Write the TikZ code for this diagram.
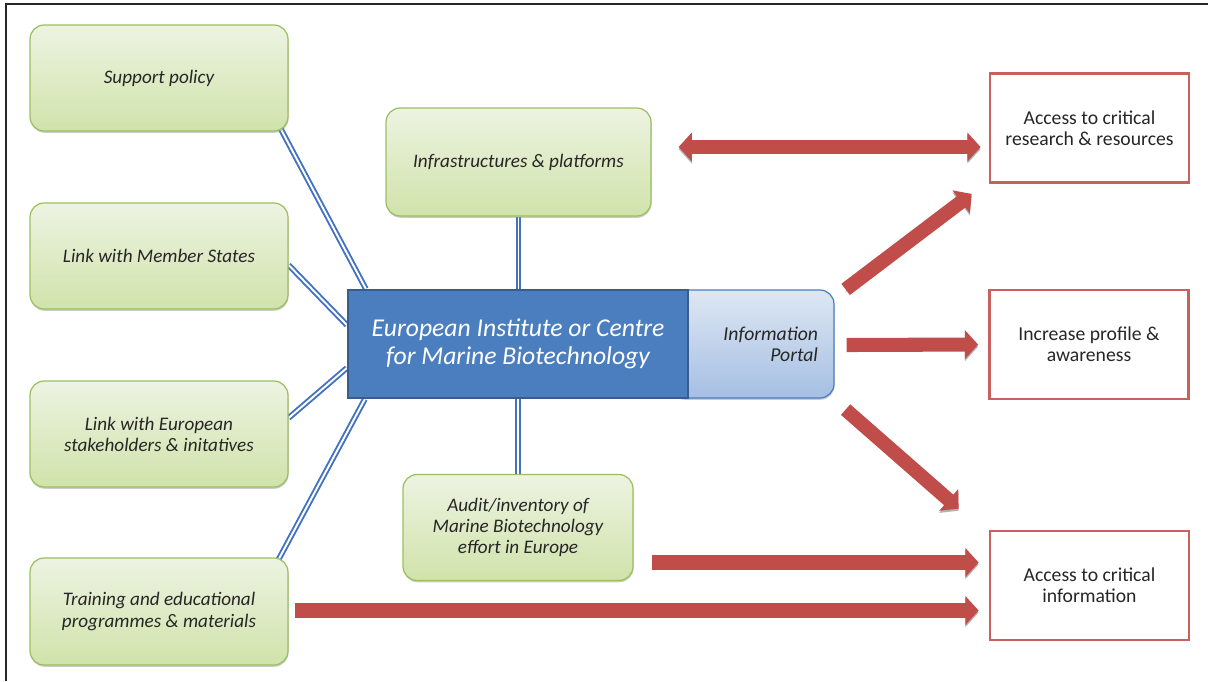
\documentclass[tikz,border=0pt]{standalone}
\usepackage{fontspec}
\setmainfont{Carlito}
\usetikzlibrary{calc,arrows.meta,shadows,backgrounds}
\definecolor{greentop}{RGB}{237,243,226}
\definecolor{greenbot}{RGB}{208,227,170}
\definecolor{greenedge}{RGB}{155,192,95}
\definecolor{eibblue}{RGB}{74,126,191}
\definecolor{eibedge}{RGB}{56,93,140}
\definecolor{portaltop}{RGB}{222,231,243}
\definecolor{portalbot}{RGB}{165,191,227}
\definecolor{linkblue}{RGB}{66,114,192}
\definecolor{arrowred}{RGB}{192,77,74}
\definecolor{outedge}{RGB}{200,96,94}
\tikzset{
  greenbox/.style={draw=greenedge, line width=0.7pt, rounded corners=8pt,
    top color=greentop, bottom color=greenbot, align=center, text=black!85,
    minimum width=5.16cm, minimum height=2.12cm, inner sep=0pt,
    font=\itshape\fontsize{10.9}{12}\selectfont,
    drop shadow={shadow xshift=0.3pt, shadow yshift=-1pt, opacity=0.45, fill=black!45}},
  outbox/.style={draw=outedge, line width=1.6pt, fill=white, align=center, text=black!85,
    minimum width=3.98cm, minimum height=2.18cm, inner sep=0pt,
    font=\fontsize{11.2}{12}\selectfont},
  link/.style={draw=linkblue, double=white, line width=1.1pt, double distance=1.1pt},
  redtip/.tip={Triangle[width=16pt,length=7.5pt]},
  redarrow/.style={draw=arrowred, line width=8pt, -redtip,
    preaction={draw=black!30, transform canvas={yshift=-1.2pt}}}
}
\begin{document}
\begin{tikzpicture}[x=0.02cm, y=-0.02cm]
			%%%%% START %%%%%
			\useasboundingbox (0,0) rectangle (1208,681);
			\draw[line width=0.85pt, black!85] (6,681) -- (6,4) -- (1208,4);
			
			% left column
			\node[greenbox] (sup) at (159,78) {Support policy};
			\node[greenbox] (mem) at (159,256) {Link with Member States};
			\node[greenbox] (eur) at (159,434) {Link with European\\stakeholders \& initatives};
			\node[greenbox, minimum height=2.14cm] (train) at (159,611.5) {Training and educational\\programmes \& materials};
			
			% middle column
			\node[greenbox, minimum width=5.3cm, minimum height=2.16cm] (infra) at (518.5,162) {Infrastructures \& platforms};
			\node[greenbox, minimum width=4.6cm] (audit) at (518,527.5) {Audit/inventory of\\Marine Biotechnology\\effort in Europe};
			
			\node[draw=eibblue, line width=0.7pt, rounded corners=8pt, top color=portaltop, bottom color=portalbot,
			  minimum width=3.28cm, minimum height=2.16cm, text width=2.64cm, inner xsep=0.32cm, align=right,
			  text=black!85, font=\itshape\fontsize{11.2}{12}\selectfont,
			  drop shadow={shadow xshift=0.3pt, shadow yshift=-1pt, opacity=0.45, fill=black!45}] (portal) at (752,344) {Information\\Portal};
			\node[draw=eibedge, line width=1.4pt, fill=eibblue, text=white, align=center,
			  minimum width=6.8cm, minimum height=2.16cm, inner sep=0pt,
			  font=\itshape\fontsize{14.6}{16}\selectfont] (eib) at (518,344) {European Institute or Centre\\for Marine Biotechnology};
			
			% right column
			\node[outbox] (res) at (1089.5,128) {Access to critical\\research \& resources};
			\node[outbox] (aware) at (1089,344.5) {Increase profile \&\\awareness};
			\node[outbox] (crit) at (1089.5,585.5) {Access to critical\\information};
			
			\begin{scope}[on background layer]
			\draw[link] ($(sup.south east)+(-8,-3)$) -- ($(eib.north west)+(19,0)$);
			\draw[link] ($(mem.east)+(0,9)$) -- ($(eib.west)+(0,-19)$);
			\draw[link] ($(eur.east)+(0,-16)$) -- ($(eib.west)+(0,24)$);
			\draw[link] ($(train.north east)+(-10,2)$) -- ($(eib.south west)+(18,0)$);
			\draw[link] (infra.south) -- (infra.south |- eib.north);
			\draw[link] (audit.north) -- (audit.north |- eib.south);
			\end{scope}
			
			\draw[redarrow, redtip-redtip] ($(infra.east)+(27,-15)$) -- ($(res.west)+(-8,19)$);
			\draw[redarrow] ($(portal.north east)+(11,0)$) -- ($(res.south west)+(-17,10)$);
			\draw[redarrow] ($(portal.east)+(12,1)$) -- ($(aware.west)+(-10,0)$);
			\draw[redarrow] ($(portal.south east)+(11,11)$) -- ($(crit.north west)+(-30,-21)$);
			\draw[redarrow] ($(audit.east)+(18,35)$) -- ($(crit.west)+(-10,-23)$);
			\draw[redarrow] ($(train.east)+(6,-1)$) -- ($(crit.west |- train.east)+(-10,-1)$);
			
			%%%%% END %%%%%
\end{tikzpicture}
\end{document}
